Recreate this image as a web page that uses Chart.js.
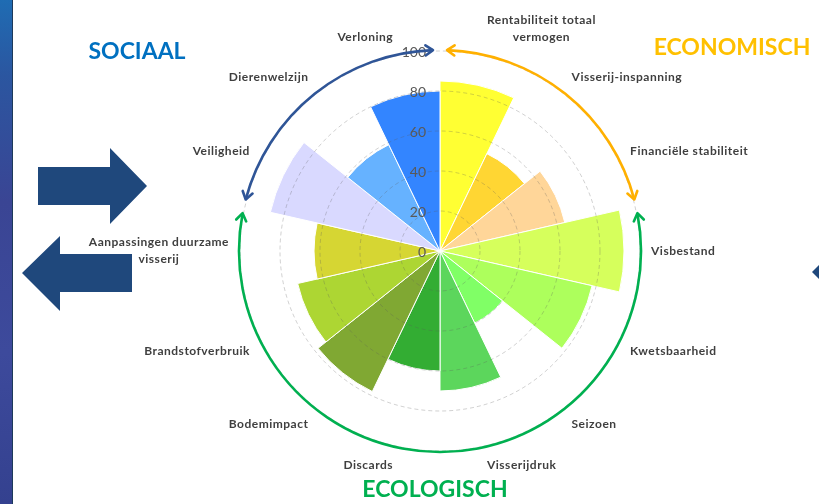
<!DOCTYPE html>
<html>
<head>
<meta charset="utf-8">
<script src="https://cdn.jsdelivr.net/npm/chart.js@4/dist/chart.umd.min.js"></script>
<style>
html,body{margin:0;padding:0;background:#fff;}
#wrap{position:relative;width:819px;height:504px;}
</style>
</head>
<body>
<div id="wrap"><canvas id="c" width="819" height="504"></canvas></div>
<script>
// ---- data ----
const categories = [
  ["Rentabiliteit totaal", "vermogen"],
  "Visserij-inspanning",
  "Financiële stabiliteit",
  "Visbestand",
  "Kwetsbaarheid",
  "Seizoen",
  "Visserijdruk",
  "Discards",
  "Bodemimpact",
  "Brandstofverbruik",
  ["Aanpassingen duurzame", "visserij"],
  "Veiligheid",
  "Dierenwelzijn",
  "Verloning"
];
const scores = [85, 54, 64, 92, 78, 40, 70, 60, 78, 73, 63, 87, 59, 80];
const pillarOf = ["ECONOMISCH","ECONOMISCH","ECONOMISCH",
  "ECOLOGISCH","ECOLOGISCH","ECOLOGISCH","ECOLOGISCH","ECOLOGISCH","ECOLOGISCH","ECOLOGISCH","ECOLOGISCH",
  "SOCIAAL","SOCIAAL","SOCIAAL"];
const tickValues = [0, 20, 40, 60, 80, 100];

// ---- styles ----
const segColors = ["#FFFF33","#FFD633","#FFD699","#D6FF5C","#ADFF5C","#80FF66","#5CD65C",
  "#33AD33","#80A833","#ADD633","#D6D633","#D9D9FF","#66B2FF","#3385FF"];
const pillarStyle = {
  SOCIAAL:    {color:"#0070C0", arc:"#2F5597", x:137, y:52},
  ECONOMISCH: {color:"#FFC000", arc:"#FFB000", x:732, y:48},
  ECOLOGISCH: {color:"#00B050", arc:"#00B050", x:435, y:490}
};

const bgPlugin = {
  id:"bg",
  beforeDraw(chart){
    const ctx = chart.ctx;
    ctx.save();
    const g = ctx.createLinearGradient(0,0,0,504);
    g.addColorStop(0,"#1f6cb3"); g.addColorStop(0.15,"#2b56a0");
    g.addColorStop(0.4,"#3a4594"); g.addColorStop(0.7,"#3d4a9c"); g.addColorStop(1,"#34418f");
    ctx.fillStyle = g; ctx.fillRect(0,0,12,504);
    ctx.fillStyle = "#1d3a5a"; ctx.fillRect(12,0,1,504);
    ctx.fillStyle = "#1F487C";
    ctx.beginPath();
    ctx.moveTo(38,167); ctx.lineTo(110,167); ctx.lineTo(110,148); ctx.lineTo(147,186);
    ctx.lineTo(110,224); ctx.lineTo(110,205); ctx.lineTo(38,205); ctx.closePath(); ctx.fill();
    ctx.beginPath();
    ctx.moveTo(132,254); ctx.lineTo(60,254); ctx.lineTo(60,236); ctx.lineTo(22,273);
    ctx.lineTo(60,311); ctx.lineTo(60,292); ctx.lineTo(132,292); ctx.closePath(); ctx.fill();
    ctx.beginPath();
    ctx.moveTo(812,272); ctx.lineTo(820,264); ctx.lineTo(820,280); ctx.closePath(); ctx.fill();
    ctx.restore();
  }
};

function chevron(ctx, x, y, dirAngle, color){
  const L = 9, spread = 0.6;
  ctx.save();
  ctx.strokeStyle = color; ctx.lineWidth = 2.6; ctx.lineCap = "round"; ctx.lineJoin="round";
  ctx.beginPath();
  ctx.moveTo(x - L*Math.cos(dirAngle - spread), y - L*Math.sin(dirAngle - spread));
  ctx.lineTo(x, y);
  ctx.lineTo(x - L*Math.cos(dirAngle + spread), y - L*Math.sin(dirAngle + spread));
  ctx.stroke();
  ctx.restore();
}

const decoPlugin = {
  id:"deco",
  afterDraw(chart){
    const ctx = chart.ctx;
    const s = chart.scales.r;
    const xc = s.xCenter, yc = s.yCenter;
    const outer = s.getDistanceFromCenterForValue(100);
    const n = categories.length;
    const step = 2*Math.PI/n;
    ctx.save();
    // tick labels
    ctx.font = "14px Lato";
    ctx.fillStyle = "#595959";
    ctx.textAlign = "right"; ctx.textBaseline = "middle";
    tickValues.forEach(v => {
      ctx.fillText(String(v), xc - 14, yc - s.getDistanceFromCenterForValue(v) + 1);
    });
    // category labels (same placement rule as Chart.js point labels)
    ctx.font = "bold 12px Lato";
    try { ctx.letterSpacing = "0.5px"; } catch(e) {}
    ctx.fillStyle = "#3f3f3f";
    const lh = 17, pad = 11;
    categories.forEach((lab, i) => {
      const lines = Array.isArray(lab) ? lab : [lab];
      const deg = (i + 0.5) * 360 / n;
      const a = deg * Math.PI/180;
      const R = outer + pad;
      const px = xc + R*Math.sin(a), py = yc - R*Math.cos(a);
      const w = Math.max(...lines.map(t => ctx.measureText(t).width));
      const h = lines.length * lh;
      const near = (t) => Math.abs(deg - t) < 0.5;
      let left;
      if (near(0) || near(180)) left = px - w/2;
      else if (deg < 180) left = px;
      else left = px - w;
      let top;
      if (near(90) || near(270)) top = py - h/2;
      else if (deg > 270 || deg < 90) top = py - h;
      else top = py;
      ctx.textAlign = "center"; ctx.textBaseline = "middle";
      lines.forEach((t, k) => ctx.fillText(t, left + w/2, top + lh*k + lh/2));
    });
    try { ctx.letterSpacing = "0px"; } catch(e) {}
    // pillar arcs with arrowheads
    const groups = [];
    pillarOf.forEach((p, i) => {
      const g = groups.find(q => q.name === p);
      if (g) g.end = i + 1; else groups.push({name:p, start:i, end:i+1});
    });
    const ra = outer + 1;
    const gap = 0.035;
    groups.forEach(g => {
      const st = pillarStyle[g.name];
      const a0 = -Math.PI/2 + g.start*step + gap;
      const a1 = -Math.PI/2 + g.end*step - gap;
      ctx.strokeStyle = st.arc; ctx.lineWidth = 2.6;
      ctx.beginPath(); ctx.arc(xc, yc, ra, a0, a1); ctx.stroke();
      chevron(ctx, xc + ra*Math.cos(a0), yc + ra*Math.sin(a0), a0 - Math.PI/2, st.arc);
      chevron(ctx, xc + ra*Math.cos(a1), yc + ra*Math.sin(a1), a1 + Math.PI/2, st.arc);
      ctx.font = "bold 23px Lato";
      ctx.fillStyle = st.color; ctx.textAlign = "center"; ctx.textBaseline = "middle";
      ctx.fillText(g.name, st.x, st.y);
    });
    ctx.restore();
  }
};

new Chart(document.getElementById("c"), {
  type: "polarArea",
  data: {
    labels: categories,
    datasets: [{
      data: scores,
      backgroundColor: segColors,
      borderColor: "#ffffff",
      borderWidth: 1
    }]
  },
  options: {
    responsive: false,
    animation: false,
    layout: { padding: { top: 51, bottom: 53, left: 100, right: 39 } },
    plugins: { legend: { display: false }, tooltip: { enabled: false } },
    scales: {
      r: {
        min: 0, max: 100,
        startAngle: 0,
        ticks: { display: false, stepSize: 20 },
        pointLabels: { display: false },
        angleLines: { display: false },
        grid: { circular: true, color: "rgba(90,90,90,0.28)", lineWidth: 1, z: 1 },
        border: { dash: [4, 3] }
      }
    }
  },
  plugins: [bgPlugin, decoPlugin]
});
</script>
</body>
</html>
